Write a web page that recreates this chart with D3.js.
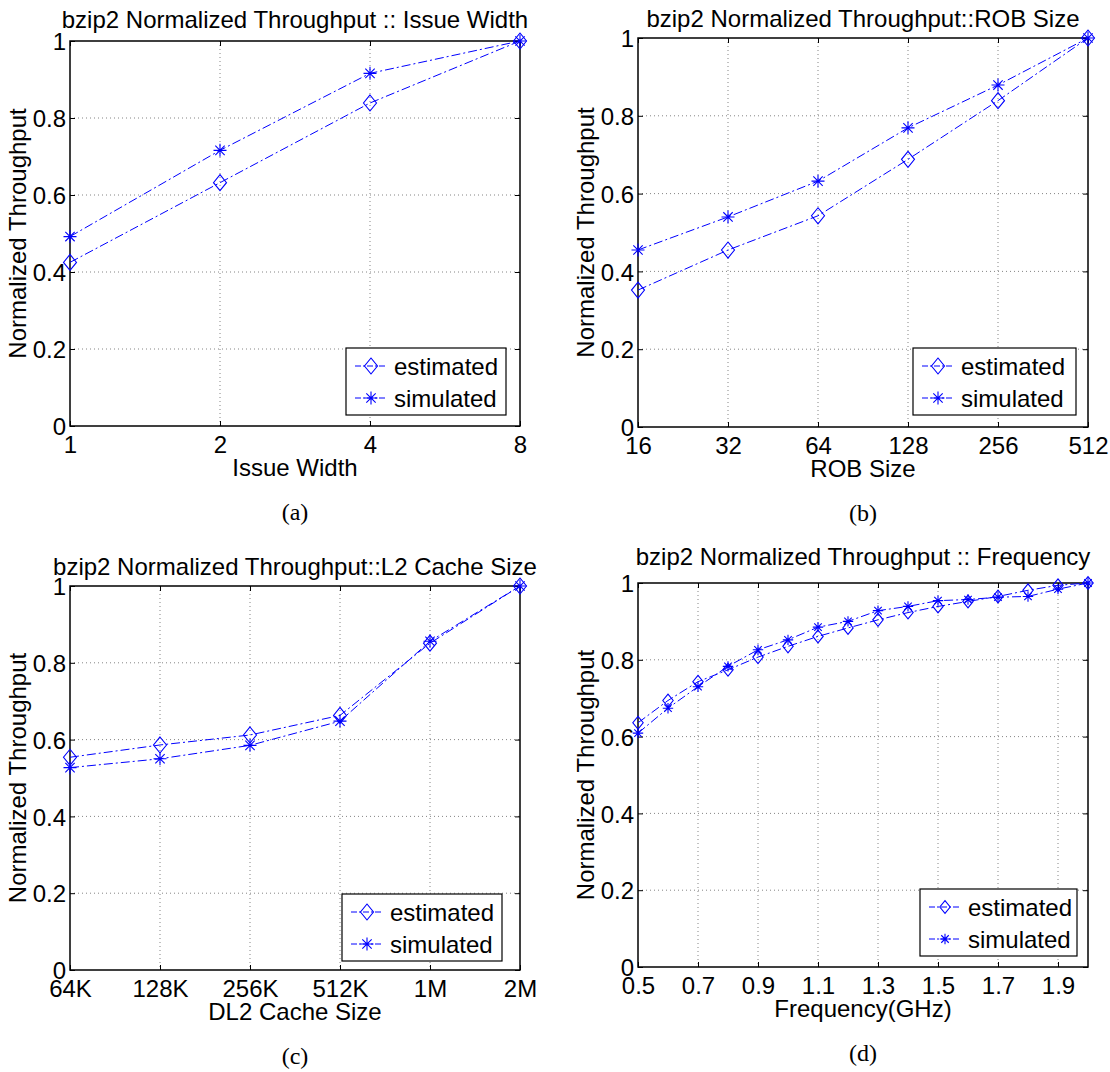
<!DOCTYPE html>
<html><head><meta charset="utf-8">
<script src="https://cdn.jsdelivr.net/npm/d3@7"></script>
<style>body{margin:0;background:#fff} svg{display:block}</style>
</head><body><svg id="chart" width="1110" height="1072"></svg>
<script>
// ---------- data ----------
const issueWidth = ["1", "2", "4", "8"];
const issueEstimated = [0.425, 0.632, 0.839, 1.0];
const issueSimulated = [0.492, 0.716, 0.916, 1.0];

const robSize = ["16", "32", "64", "128", "256", "512"];
const robEstimated = [0.352, 0.455, 0.543, 0.688, 0.839, 1.0];
const robSimulated = [0.455, 0.540, 0.632, 0.769, 0.879, 1.0];

const cacheSize = ["64K", "128K", "256K", "512K", "1M", "2M"];
const cacheEstimated = [0.554, 0.586, 0.612, 0.663, 0.851, 1.0];
const cacheSimulated = [0.527, 0.550, 0.585, 0.648, 0.856, 1.0];

const frequency = [0.5, 0.6, 0.7, 0.8, 0.9, 1.0, 1.1, 1.2, 1.3, 1.4, 1.5, 1.6, 1.7, 1.8, 1.9, 2.0];
const freqEstimated = [0.636, 0.694, 0.743, 0.774, 0.807, 0.835, 0.861, 0.883, 0.904, 0.923, 0.939, 0.952, 0.965, 0.981, 0.994, 1.0];
const freqSimulated = [0.609, 0.674, 0.730, 0.783, 0.826, 0.852, 0.885, 0.900, 0.928, 0.939, 0.954, 0.957, 0.963, 0.965, 0.984, 1.0];
const freqTicks = [0.5, 0.7, 0.9, 1.1, 1.3, 1.5, 1.7, 1.9];

const yTicks = [0, 0.2, 0.4, 0.6, 0.8, 1];
const seriesNames = ["estimated", "simulated"];
const titles = [
  "bzip2 Normalized Throughput :: Issue Width",
  "bzip2 Normalized Throughput::ROB Size",
  "bzip2 Normalized Throughput::L2 Cache Size",
  "bzip2 Normalized Throughput :: Frequency"
];
const xLabels = ["Issue Width", "ROB Size", "DL2 Cache Size", "Frequency(GHz)"];
const yLabel = "Normalized Throughput";
const captions = ["(a)", "(b)", "(c)", "(d)"];

// ---------- layout ----------
const FONT = "'Liberation Sans', Arial, Helvetica, sans-serif";
const FS = 24;
const BLUE = "#0000ff";
const DASH = "9,3,2,3";

const panels = [
  {cats: issueWidth, est: issueEstimated, sim: issueSimulated, left: 70, right: 520, top: 41, bottom: 426, titleY: 28,
   legend: {x: 346, y: 348, w: 160, h: 67}, ms: 1},
  {cats: robSize, est: robEstimated, sim: robSimulated, left: 638, right: 1088, top: 38, bottom: 427, titleY: 27,
   legend: {x: 913, y: 348, w: 163, h: 67}, ms: 1},
  {cats: cacheSize, est: cacheEstimated, sim: cacheSimulated, left: 70, right: 520, top: 586, bottom: 970, titleY: 575,
   legend: {x: 342, y: 894, w: 160, h: 67}, ms: 1},
  {xs: frequency, est: freqEstimated, sim: freqSimulated, left: 638, right: 1088, top: 583, bottom: 967, titleY: 565,
   legend: {x: 920, y: 889, w: 157, h: 67}, ms: 0.8}
];

const svg = d3.select("#chart");

function diamondPath(s) {
  const w = 6.5 * s, h = 8 * s;
  return `M0,${-h}L${w},0L0,${h}L${-w},0Z`;
}
function starPath(s) {
  const r = 6.5 * s, d = r * 0.72;
  return `M${-r},0L${r},0M0,${-r}L0,${r}M${-d},${-d}L${d},${d}M${-d},${d}L${d},${-d}`;
}

panels.forEach((p, i) => {
  const g = svg.append("g");
  let x, xTickVals, xVals, fmtX;
  if (p.cats) {
    x = d3.scalePoint().domain(p.cats).range([p.left, p.right]).padding(0);
    xTickVals = p.cats;
    xVals = p.cats;
    fmtX = d => d;
  } else {
    x = d3.scaleLinear().domain([0.5, 2.0]).range([p.left, p.right]);
    xTickVals = freqTicks;
    xVals = p.xs;
    fmtX = d3.format(".1f");
  }
  const y = d3.scaleLinear().domain([0, 1]).range([p.bottom, p.top]);
  const W = p.right - p.left, H = p.bottom - p.top;

  // grid
  const grid = g.append("g").attr("stroke", "#777").attr("stroke-width", 0.9).attr("stroke-dasharray", "1,3");
  xTickVals.forEach(v => {
    const xx = x(v);
    if (Math.abs(xx - p.left) < 1 || Math.abs(xx - p.right) < 1) return;
    grid.append("line").attr("x1", xx).attr("x2", xx).attr("y1", p.top).attr("y2", p.bottom);
  });
  yTicks.forEach(v => {
    if (v === 0 || v === 1) return;
    grid.append("line").attr("x1", p.left).attr("x2", p.right).attr("y1", y(v)).attr("y2", y(v));
  });

  // ticks (inward, all sides) via d3 axes
  const tickLen = 5;
  const gb = g.append("g").attr("transform", `translate(0,${p.bottom})`)
    .call(d3.axisBottom(x).tickValues(xTickVals).tickSize(-tickLen).tickFormat(fmtX));
  const gt = g.append("g").attr("transform", `translate(0,${p.top})`)
    .call(d3.axisTop(x).tickValues(xTickVals).tickSize(-tickLen).tickFormat(""));
  const gl = g.append("g").attr("transform", `translate(${p.left},0)`)
    .call(d3.axisLeft(y).tickValues(yTicks).tickSize(-tickLen).tickFormat(d3.format("~g")).tickPadding(4));
  const gr = g.append("g").attr("transform", `translate(${p.right},0)`)
    .call(d3.axisRight(y).tickValues(yTicks).tickSize(-tickLen).tickFormat(""));
  [gb, gt, gl, gr].forEach(a => {
    a.select(".domain").remove();
    a.selectAll(".tick line").attr("stroke", "#000").attr("stroke-width", 1);
    a.selectAll("text").attr("font-family", FONT).attr("font-size", FS).attr("fill", "#000");
  });
  gb.selectAll(".tick text").attr("dy", null).attr("y", 27);
  gl.selectAll(".tick text").attr("dy", "0.36em");

  // frame
  g.append("rect").attr("x", p.left).attr("y", p.top).attr("width", W).attr("height", H)
    .attr("fill", "none").attr("stroke", "#000").attr("stroke-width", 1.5);

  // series
  const line = d3.line().x(d => x(d[0])).y(d => y(d[1]));
  const seriesData = [p.est, p.sim].map(vals => xVals.map((xv, k) => [xv, vals[k]]));
  seriesData.forEach((data, si) => {
    g.append("path").datum(data).attr("d", line).attr("fill", "none")
      .attr("stroke", BLUE).attr("stroke-width", 1).attr("stroke-dasharray", DASH);
    g.selectAll(null).data(data).enter().append("path")
      .attr("transform", d => `translate(${x(d[0])},${y(d[1])})`)
      .attr("d", si === 0 ? diamondPath(p.ms) : starPath(p.ms))
      .attr("fill", "none").attr("stroke", BLUE).attr("stroke-width", 1.1);
  });

  // title
  g.append("text").attr("x", (p.left + p.right) / 2).attr("y", p.titleY)
    .attr("text-anchor", "middle").attr("font-family", FONT).attr("font-size", FS).text(titles[i]);
  // x label
  g.append("text").attr("x", (p.left + p.right) / 2).attr("y", p.bottom + 50)
    .attr("text-anchor", "middle").attr("font-family", FONT).attr("font-size", FS).text(xLabels[i]);
  // y label
  g.append("text").attr("transform", `translate(${p.left - 51},${(p.top + p.bottom) / 2}) rotate(-90)`)
    .attr("text-anchor", "middle").attr("dy", "0.3em").attr("font-family", FONT).attr("font-size", FS).text(yLabel);
  // caption
  g.append("text").attr("x", (p.left + p.right) / 2).attr("y", p.bottom + 94)
    .attr("text-anchor", "middle").attr("font-family", "'Liberation Serif', 'DejaVu Serif', serif")
    .attr("font-size", 24).text(captions[i]);

  // legend
  const L = p.legend;
  const lg = g.append("g");
  lg.append("rect").attr("x", L.x).attr("y", L.y).attr("width", L.w).attr("height", L.h)
    .attr("fill", "#fff").attr("stroke", "#000").attr("stroke-width", 1.2);
  seriesNames.forEach((name, si) => {
    const ry = L.y + 18 + si * 32;
    lg.append("line").attr("x1", L.x + 9).attr("x2", L.x + 40).attr("y1", ry).attr("y2", ry)
      .attr("stroke", BLUE).attr("stroke-width", 1).attr("stroke-dasharray", "6,2,2,2");
    lg.append("path").attr("transform", `translate(${L.x + 25},${ry})`)
      .attr("d", si === 0 ? diamondPath(p.ms) : starPath(p.ms))
      .attr("fill", "none").attr("stroke", BLUE).attr("stroke-width", 1.1);
    lg.append("text").attr("x", L.x + 48).attr("y", ry).attr("dy", "0.36em")
      .attr("font-family", FONT).attr("font-size", FS).text(name);
  });
});
</script></body></html>
